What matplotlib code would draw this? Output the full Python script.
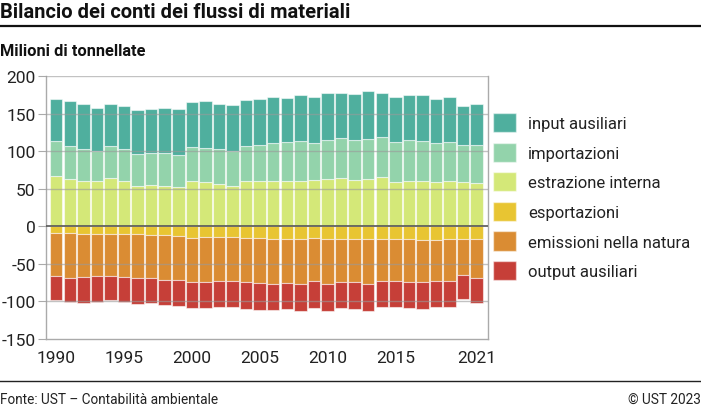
import matplotlib
matplotlib.use("Agg")
import matplotlib.pyplot as plt
from matplotlib.patches import Patch
from matplotlib.lines import Line2D
import numpy as np

plt.rcParams['font.family'] = ['Roboto', 'DejaVu Sans']

years = list(range(1990, 2022))
# positive components (Mio t)
estrazione = [66.9, 62.5, 60.7, 59.8, 63.8, 60.3, 54.1, 55.0, 53.2, 51.9,
              60.3, 58.5, 56.3, 53.6, 59.8, 59.8, 60.3, 60.3, 60.3, 61.6,
              62.9, 64.7, 61.6, 62.9, 65.6, 58.5, 60.7, 60.3, 59.0, 59.8,
              59.0, 58.1]
imp_top = [113.5, 106.9, 102.9, 100.2, 106.4, 102.4, 96.2, 97.6, 97.6, 95.3,
           106.0, 104.6, 102.9, 99.8, 107.3, 108.2, 110.9, 111.8, 113.5, 111.3,
           114.9, 117.5, 114.4, 116.6, 119.3, 112.2, 114.9, 114.0, 111.3, 112.6,
           108.2, 108.6]
tot_top = [169.9, 166.3, 162.8, 157.9, 162.8, 160.1, 155.2, 155.7, 157.4, 156.1,
           165.9, 166.8, 162.8, 161.0, 168.1, 169.9, 172.5, 170.7, 174.3, 171.6,
           177.0, 177.0, 176.1, 179.6, 177.4, 171.6, 175.2, 174.3, 169.9, 171.6,
           159.7, 162.8]
importazioni = [round(b - a, 1) for a, b in zip(estrazione, imp_top)]
input_aus = [round(b - a, 1) for a, b in zip(imp_top, tot_top)]

# negative components
exp_bot = [-8.5, -9.4, -9.8, -9.8, -9.8, -9.8, -10.2, -12.0, -12.0, -12.9,
           -15.1, -14.7, -14.7, -14.2, -15.1, -15.1, -16.9, -17.3, -17.3, -15.1,
           -16.5, -17.3, -16.5, -16.5, -16.5, -16.5, -16.5, -17.8, -17.8, -17.3,
           -16.5, -17.3]
emi_bot = [-65.7, -68.4, -67.9, -66.6, -65.7, -67.0, -68.4, -68.4, -71.0, -71.9,
           -73.7, -74.6, -72.4, -72.8, -74.1, -75.5, -76.3, -75.0, -76.3, -72.8,
           -76.3, -73.7, -74.6, -76.3, -72.4, -72.4, -73.7, -74.6, -72.4, -73.2,
           -64.4, -68.4]
out_bot = [-98.1, -101.2, -101.6, -100.3, -98.1, -100.7, -103.0, -102.5, -104.7, -106.1,
           -108.3, -109.2, -107.0, -107.4, -109.6, -111.0, -111.8, -109.6, -112.7, -108.7,
           -112.7, -108.7, -110.5, -112.7, -107.4, -107.4, -109.2, -109.6, -107.0, -107.9,
           -97.2, -101.6]
esportazioni = exp_bot
emissioni = [round(b - a, 1) for a, b in zip(exp_bot, emi_bot)]
output_aus = [round(b - a, 1) for a, b in zip(emi_bot, out_bot)]

labels = ["input ausiliari", "importazioni", "estrazione interna",
          "esportazioni", "emissioni nella natura", "output ausiliari"]
colors = ["#4FAF9E", "#93D3AB", "#D4E878", "#E8C532", "#DA8C33", "#C63F38"]
xticks_lab = [1990, 1995, 2000, 2005, 2010, 2015, 2021]

fig = plt.figure(figsize=(7.01, 4.10), dpi=100)
ax = fig.add_axes([46/701, 1-340/410, (488-46)/701, (340-77)/410])

x = np.arange(len(years))
w = 0.92
ec = (1, 1, 1, 0.55)
kw = dict(width=w, edgecolor=ec, linewidth=0.8, zorder=2)
ax.bar(x, estrazione, color=colors[2], **kw)
ax.bar(x, importazioni, bottom=estrazione, color=colors[1], **kw)
ax.bar(x, input_aus, bottom=imp_top, color=colors[0], **kw)
ax.bar(x, esportazioni, color=colors[3], **kw)
ax.bar(x, emissioni, bottom=exp_bot, color=colors[4], **kw)
ax.bar(x, output_aus, bottom=emi_bot, color=colors[5], **kw)

ax.set_xlim(-0.75, 31.83)
ax.set_ylim(-150, 200)
ax.set_yticks([-150, -100, -50, 0, 50, 100, 150, 200])
ax.set_yticklabels([str(v) for v in [-150, -100, -50, 0, 50, 100, 150, 200]])
for v in [-100, -50, 50, 100, 150, 200]:
    ax.axhline(v, color="#9a9a9a", lw=1.0, alpha=0.6, zorder=3)
ax.axhline(0, color="#555555", lw=1.2, zorder=4)
ax.set_xticks([y - 1990 for y in xticks_lab])
ax.set_xticklabels([str(y) for y in xticks_lab])
ax.tick_params(axis='x', length=0, pad=8, labelsize=12.5, colors="#222222")
ax.tick_params(axis='y', length=6, width=0.8, color="#aaaaaa", pad=1.5,
               labelsize=12.5, labelcolor="#222222")
for s in ax.spines.values():
    s.set_color("#aaaaaa")
    s.set_linewidth(1.0)
ax.spines['top'].set_visible(False)

handles = [Patch(facecolor=c, edgecolor=(1, 1, 1, 0.5)) for c in colors]
leg = fig.legend(handles, labels, loc='upper left', bbox_to_anchor=(493/701, 1-114/410),
                 frameon=False, fontsize=12, handlelength=1.38, handleheight=1.4,
                 handletextpad=0.72, labelspacing=0.62, borderaxespad=0, borderpad=0,
                 labelcolor="#222222")

fig.text(0.0, 1-13/410, "Bilancio dei conti dei flussi di materiali", fontsize=14.5,
         fontweight='bold', va='center', ha='left', color="#111111")
fig.add_artist(Line2D([0, 1], [1-27/410, 1-27/410], color="#111111", lw=1.6))
fig.text(0.0, 1-52/410, "Milioni di tonnellate", fontsize=11.8, fontweight='bold',
         va='center', ha='left', color="#111111")
fig.add_artist(Line2D([0, 1], [1-382/410, 1-382/410], color="#222222", lw=1.0))
fig.text(0.0, 1-400/410, "Fonte: UST – Contabilità ambientale", fontsize=9.8,
         va='center', ha='left', color="#222222")
fig.text(1.0, 1-400/410, "© UST 2023", fontsize=9.8, va='center', ha='right',
         color="#222222")

fig.savefig("out.png", dpi=100)
